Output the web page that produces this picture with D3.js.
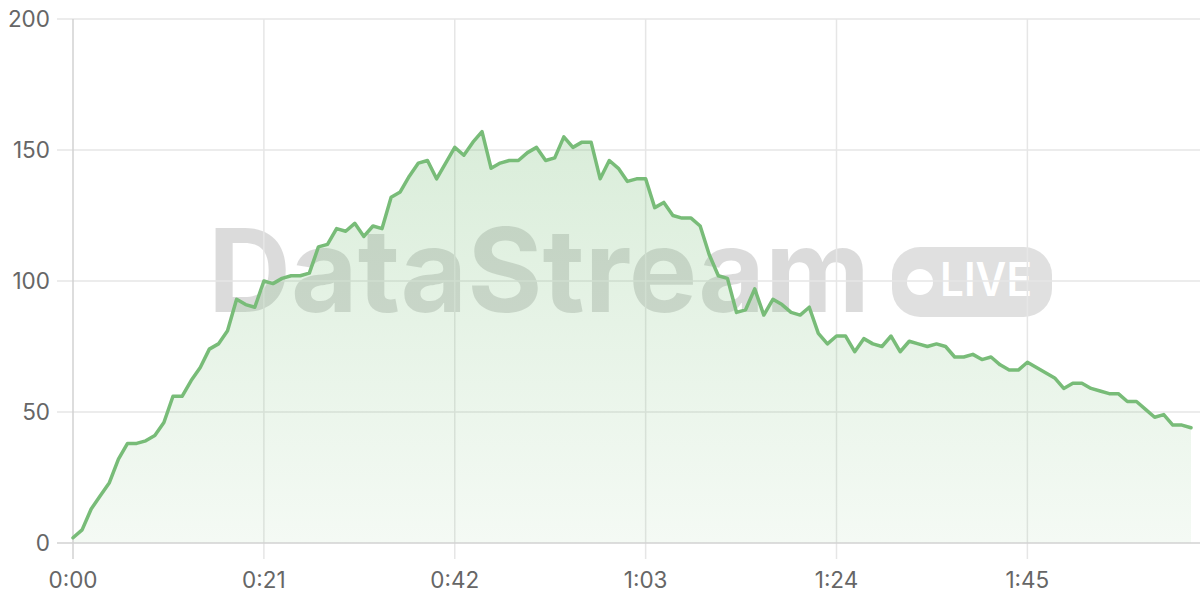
<!DOCTYPE html>
<html><head><meta charset="utf-8">
<script src="https://cdn.jsdelivr.net/npm/d3@7"></script>
<style>
html,body{margin:0;padding:0;background:#fff;}
svg{display:block;font-family:Inter,"Open Sans",sans-serif;}
</style></head>
<body>
<svg id="chart" width="1200" height="600"></svg>
<script>
const seconds = d3.range(0, 124);
const values = [2,5,13,18,23,32,38,38,39,41,
46,56,56,62,67,74,76,81,93,91,
90,100,99,101,102,102,103,113,114,120,
119,122,117,121,120,132,134,140,145,146,
139,145,151,148,153,157,143,145,146,146,
149,151,146,147,155,151,153,153,139,146,
143,138,139,139,128,130,125,124,124,121,
110,102,101,88,89,97,87,93,91,88,
87,90,80,76,79,79,73,78,76,75,
79,73,77,76,75,76,75,71,71,72,
70,71,68,66,66,69,67,65,63,59,
61,61,59,58,57,57,54,54,51,48,
49,45,45,44];
const yTicks = [0,50,100,150,200];
const xTicks = [0,21,42,63,84,105];
const xTickLabels = ["0:00","0:21","0:42","1:03","1:24","1:45"];
const watermark = "DataStream";
const badge = "LIVE";

const data = seconds.map((s,i)=>({s, v: values[i]}));
const svg = d3.select("#chart");
const x = d3.scaleLinear().domain([0,123]).range([73,1191]);
const y = d3.scaleLinear().domain([0,200]).range([543,19]);

const defs = svg.append("defs");
const g = defs.append("linearGradient").attr("id","ag")
  .attr("gradientUnits","userSpaceOnUse").attr("x1",0).attr("x2",0).attr("y1",y(160)).attr("y2",y(0));
g.append("stop").attr("offset","0%").attr("stop-color","rgb(120,190,120)").attr("stop-opacity",0.28);
g.append("stop").attr("offset","100%").attr("stop-color","rgb(120,190,120)").attr("stop-opacity",0.08);

// watermark
const wm = svg.append("g");
wm.append("text").attr("x",208).attr("y",312).attr("font-size",116).attr("font-weight",700)
  .attr("textLength",662).attr("lengthAdjust","spacingAndGlyphs")
  .attr("fill","rgba(0,0,0,0.14)").text(watermark);
wm.append("rect").attr("x",892).attr("y",247).attr("width",160).attr("height",70).attr("rx",28)
  .attr("fill","rgba(0,0,0,0.12)");
wm.append("circle").attr("cx",920).attr("cy",282).attr("r",13).attr("fill","#fff");
wm.append("text").attr("x",940).attr("y",296).attr("font-size",46).attr("font-weight",600)
  .attr("textLength",92).attr("lengthAdjust","spacingAndGlyphs")
  .attr("fill","#fff").text(badge);

// grid
svg.append("g").selectAll("line").data(yTicks.filter(d=>d>0)).join("line")
  .attr("x1",57).attr("x2",1200).attr("y1",d=>y(d)).attr("y2",d=>y(d))
  .attr("stroke","#e6e6e6").attr("stroke-width",1.5);
svg.append("g").selectAll("line").data(xTicks.filter(d=>d>0)).join("line")
  .attr("x1",d=>x(d)).attr("x2",d=>x(d)).attr("y1",19).attr("y2",559)
  .attr("stroke","#e6e6e6").attr("stroke-width",1.5);

svg.append("path").datum(data)
  .attr("d", d3.area().x(d=>x(d.s)).y0(y(0)).y1(d=>y(d.v)))
  .attr("fill","url(#ag)");
svg.append("line").attr("x1",x(0)).attr("x2",x(0)).attr("y1",19).attr("y2",559)
  .attr("stroke","#d2d2d2").attr("stroke-width",1.5);
svg.append("line").attr("x1",57).attr("x2",1200).attr("y1",y(0)).attr("y2",y(0))
  .attr("stroke","#d2d2d2").attr("stroke-width",1.5);

svg.append("path").datum(data)
  .attr("d", d3.line().x(d=>x(d.s)).y(d=>y(d.v)))
  .attr("fill","none").attr("stroke","#78bc78").attr("stroke-width",3.5)
  .attr("stroke-linejoin","round").attr("stroke-linecap","round");

svg.append("g").selectAll("text").data(yTicks).join("text")
  .attr("x",50).attr("y",d=>y(d)).attr("dy","0.36em").attr("text-anchor","end")
  .attr("font-size",22.5).attr("fill","#666").text(d=>d);
svg.append("g").selectAll("text").data(xTicks).join("text")
  .attr("x",d=>x(d)).attr("y",588).attr("text-anchor","middle")
  .attr("font-size",22.5).attr("fill","#666").text((d,i)=>xTickLabels[i]);
</script>
</body></html>
